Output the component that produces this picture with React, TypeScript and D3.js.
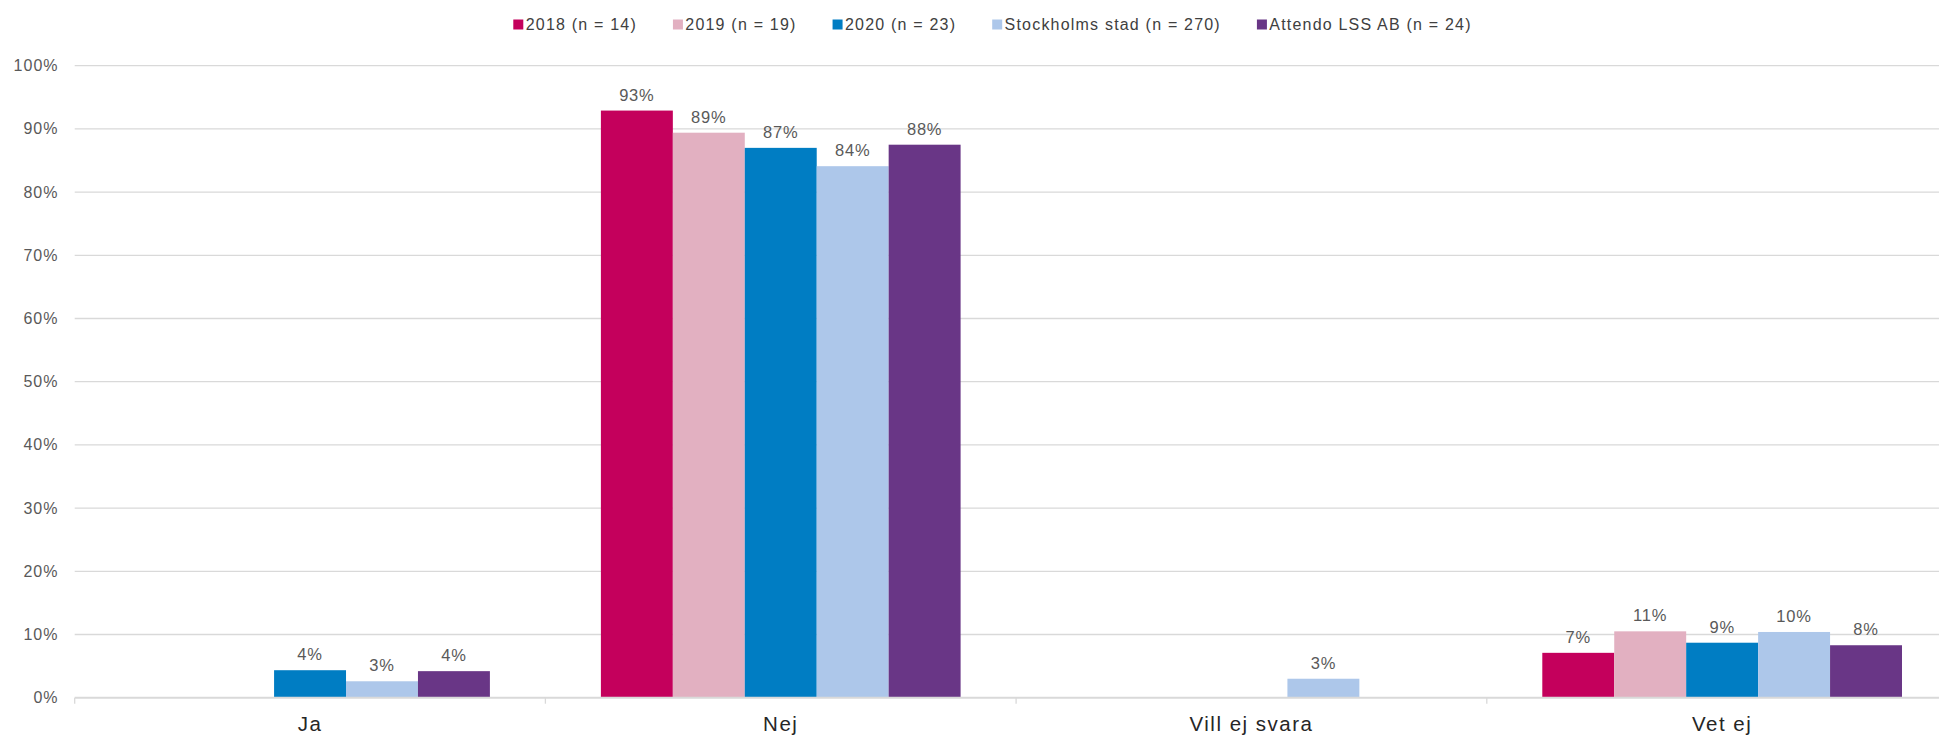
import * as d3 from "d3";
import { useEffect, useRef } from "react";

const categories = ["Ja", "Nej", "Vill ej svara", "Vet ej"];
const seriesNames = [
  "2018 (n = 14)",
  "2019 (n = 19)",
  "2020 (n = 23)",
  "Stockholms stad (n = 270)",
  "Attendo LSS AB (n = 24)",
];
const seriesColors = ["#C4005C", "#E2B0C1", "#007DC3", "#ADC7EA", "#693686"];

// values per series, in category order (null = no bar)
const values2018 = [null, 92.9, null, 7.1];
const values2019 = [null, 89.4, null, 10.5];
const values2020 = [4.35, 87.0, null, 8.7];
const valuesStockholm = [2.6, 84.1, 3.0, 10.4];
const valuesAttendo = [4.2, 87.5, null, 8.3];

const yTicks = [0, 10, 20, 30, 40, 50, 60, 70, 80, 90, 100];

const W = 1939;
const H = 735;

const App = () => {
  const ref = useRef<SVGSVGElement>(null);

  useEffect(() => {
    if (!ref.current) return;
    const svg = d3.select(ref.current);
    svg.selectAll("*").remove();

    const allValues = [values2018, values2019, values2020, valuesStockholm, valuesAttendo];
    const font = "'Liberation Sans', Arial, sans-serif";

    const left = 74.7;
    const right = 1957.5; // chart runs past the picture edge
    const top = 65.7;
    const bottom = 697.7;

    const x0 = d3.scaleBand<string>().domain(categories).range([left, right]).padding(0);
    const bw = x0.bandwidth();
    const pad = 55.5;
    const x1 = d3
      .scaleBand<string>()
      .domain(seriesNames)
      .range([pad, bw - pad])
      .padding(0);
    const y = d3.scaleLinear().domain([0, 100]).range([bottom, top]);

    // gridlines
    svg
      .append("g")
      .selectAll("line")
      .data(yTicks.filter((t) => t > 0))
      .enter()
      .append("line")
      .attr("x1", left)
      .attr("x2", W)
      .attr("y1", (d) => y(d))
      .attr("y2", (d) => y(d))
      .attr("stroke", "#D9D9D9")
      .attr("stroke-width", 1.3);

    // y labels
    svg
      .append("g")
      .selectAll("text")
      .data(yTicks)
      .enter()
      .append("text")
      .attr("x", 58.5)
      .attr("y", (d) => y(d) + 5.5)
      .attr("text-anchor", "end")
      .attr("font-family", font)
      .attr("font-size", 16)
      .attr("letter-spacing", 1)
      .attr("fill", "#595959")
      .text((d) => d + "%");

    // bars
    const barGroups = svg
      .append("g")
      .selectAll("g")
      .data(allValues)
      .enter()
      .append("g")
      .attr("fill", (d, i) => seriesColors[i]);

    barGroups.each(function (vals, si) {
      const g = d3.select(this);
      const items = vals
        .map((v, ci) => ({ v, cat: categories[ci] }))
        .filter((d) => d.v !== null) as { v: number; cat: string }[];
      g.selectAll("rect")
        .data(items)
        .enter()
        .append("rect")
        .attr("x", (d) => (x0(d.cat) as number) + (x1(seriesNames[si]) as number))
        .attr("width", x1.bandwidth())
        .attr("y", (d) => y(d.v))
        .attr("height", (d) => bottom - y(d.v));
      g.selectAll("text")
        .data(items)
        .enter()
        .append("text")
        .attr("x", (d) => (x0(d.cat) as number) + (x1(seriesNames[si]) as number) + x1.bandwidth() / 2)
        .attr("y", (d) => y(d.v) - 10)
        .attr("text-anchor", "middle")
        .attr("font-family", font)
        .attr("font-size", 16.5)
        .attr("letter-spacing", 0.8)
        .attr("fill", "#595959")
        .text((d) => Math.round(d.v) + "%");
    });

    // x axis line + ticks
    svg
      .append("line")
      .attr("x1", left)
      .attr("x2", W)
      .attr("y1", bottom)
      .attr("y2", bottom)
      .attr("stroke", "#D9D9D9")
      .attr("stroke-width", 2);

    const bounds = categories.map((c) => x0(c) as number);
    svg
      .append("g")
      .selectAll("line")
      .data(bounds)
      .enter()
      .append("line")
      .attr("x1", (d) => d)
      .attr("x2", (d) => d)
      .attr("y1", bottom)
      .attr("y2", bottom + 6)
      .attr("stroke", "#D9D9D9")
      .attr("stroke-width", 1.3);

    svg
      .append("g")
      .selectAll("text")
      .data(categories)
      .enter()
      .append("text")
      .attr("x", (d) => (x0(d) as number) + bw / 2)
      .attr("y", 731)
      .attr("text-anchor", "middle")
      .attr("font-family", font)
      .attr("font-size", 20.5)
      .attr("letter-spacing", 1.5)
      .attr("fill", "#262626")
      .text((d) => d);

    // legend
    const legend = svg.append("g");
    const items = legend
      .selectAll("g")
      .data(seriesNames)
      .enter()
      .append("g");
    items
      .append("rect")
      .attr("width", 10)
      .attr("height", 10)
      .attr("y", 19.5)
      .attr("fill", (d, i) => seriesColors[i]);
    items
      .append("text")
      .attr("x", 12.4)
      .attr("y", 30)
      .attr("font-family", font)
      .attr("font-size", 16)
      .attr("letter-spacing", 1.2)
      .attr("fill", "#404040")
      .text((d) => d);

    let xpos = 0;
    const gap = 36;
    items.each(function () {
      const g = d3.select(this);
      const tw = (g.select("text").node() as SVGTextElement).getComputedTextLength();
      g.attr("transform", `translate(${xpos},0)`);
      xpos += 12.4 + tw + gap;
    });
    const totalW = xpos - gap;
    legend.attr("transform", `translate(${992.5 - totalW / 2},0)`);
  }, []);

  return (
    <svg
      ref={ref}
      width={W}
      height={H}
      style={{ position: "absolute", left: 0, top: 0, background: "#fff", display: "block" }}
    />
  );
};

export default App;
